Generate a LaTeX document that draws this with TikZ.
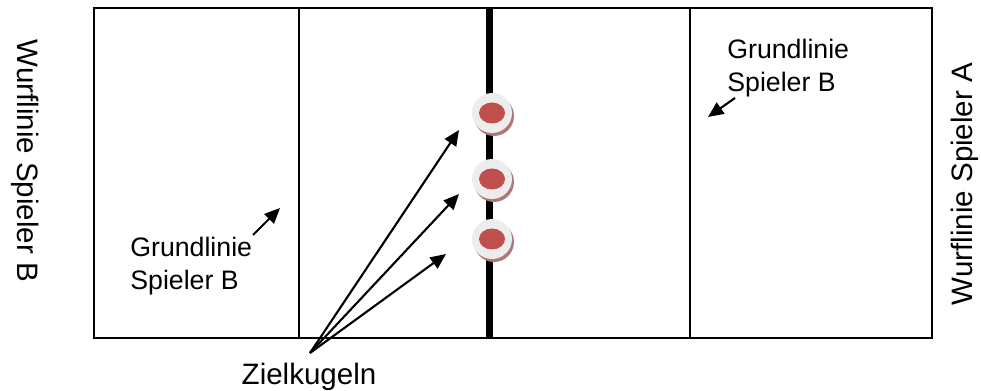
\documentclass[tikz,border=0pt]{standalone}
\usepackage{fontspec}
\setmainfont{Liberation Sans}
\usetikzlibrary{arrows.meta}
\definecolor{kugelrot}{RGB}{192,80,77}
\definecolor{schattenrot}{RGB}{172,120,120}

\begin{document}
\begin{tikzpicture}[x=0.02cm, y=-0.02cm,
    feld/.style ={draw, line width=1.1pt},
    mitte/.style ={line width=4.5pt},
    pfeil/.style ={line width=1.2pt, -{Triangle[length=0.31cm, width=0.27cm]}},
    schrift/.style ={font=\fontsize{15.2}{18.5}\selectfont, inner sep=0pt, align=left},
    gross/.style ={font=\fontsize{16.8}{20}\selectfont, inner sep=0pt},
    kugel/.style ={circle, fill=black!7, inner sep=0pt, minimum size=0.8cm},
    schatten/.style ={fill=schattenrot}]
   \useasboundingbox (0,0) rectangle (981,391);

   % Spielfeld
   \draw[feld] (94,8) rectangle (932,338);
   \draw[feld] (299,8) -- (299,338);
   \draw[feld] (690,8) -- (690,338);
   \draw[mitte] (489.5,8) -- (489.5,338);

   % Zielkugeln
   \fill[schatten] (494,116) circle (0.4cm);
   \fill[schatten] (494,182) circle (0.4cm);
   \fill[schatten] (494,242) circle (0.4cm);
   \node[kugel] (K1) at (492,113) {};
   \node[kugel] (K2) at (492,179) {};
   \node[kugel] (K3) at (492,239) {};
   \fill[kugelrot] (K1) ellipse [x radius=0.26cm, y radius=0.21cm];
   \fill[kugelrot] (K2) ellipse [x radius=0.26cm, y radius=0.21cm];
   \fill[kugelrot] (K3) ellipse [x radius=0.26cm, y radius=0.21cm];

   % Beschriftung
   \node[schrift, anchor=north west] (GB) at (130,237) {Grundlinie\\Spieler B};
   \node[schrift, anchor=north west] (GA) at (727,39) {Grundlinie\\Spieler B};
   \node[gross, anchor=base] (Z) at (309,385) {Zielkugeln};
   \node[gross, rotate=-90] (WB) at (25,161) {Wurflinie Spieler B};
   \node[gross, rotate=90] (WA) at (965,184) {Wurflinie Spieler A};

   \coordinate (Z0) at (310,353);
   \coordinate (P1) at (459,130);
   \coordinate (P2) at (459,194);
   \coordinate (P3) at (446,254);
   \coordinate (GB0) at (253,235);
   \coordinate (GB1) at (280,208);
   \coordinate (GA0) at (735,98);
   \coordinate (GA1) at (708,117);

   \draw[pfeil] (Z0) to (P1);
   \draw[pfeil] (Z0) to (P2);
   \draw[pfeil] (Z0) to (P3);
   \draw[pfeil] (GB0) to (GB1);
   \draw[pfeil] (GA0) to (GA1);
 \end{tikzpicture}
\end{document}
